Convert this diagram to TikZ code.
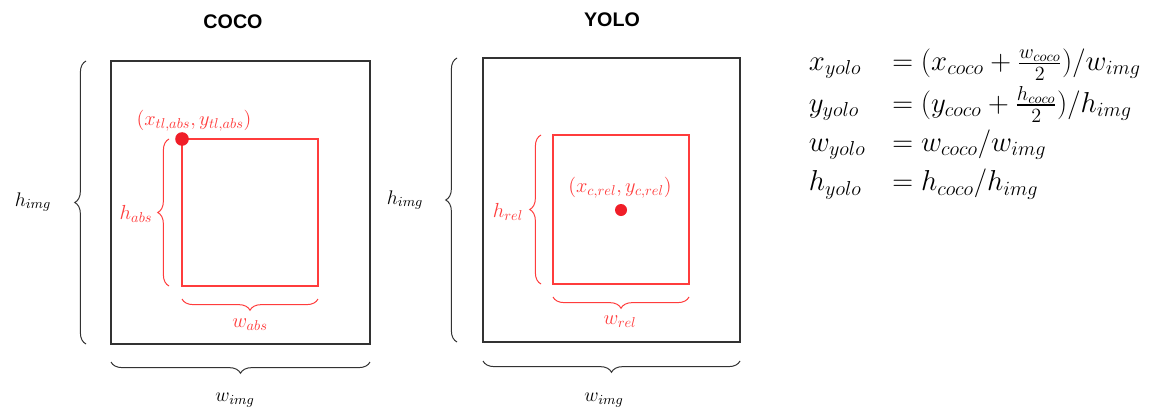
\documentclass[tikz,border=0pt]{standalone}
\usepackage{fix-cm}
\usepackage{amsmath}
\usepackage{fontspec}
\newfontfamily\titlefont{Liberation Sans}
\usetikzlibrary{decorations.pathreplacing}
\definecolor{boxred}{RGB}{255,60,60}
\definecolor{dotred}{RGB}{240,30,40}
\definecolor{imgline}{RGB}{50,50,50}
\begin{document}
\begin{tikzpicture}[x=0.025cm,y=-0.025cm,
  imgbox/.style={draw=imgline,line width=0.8pt},
  bbox/.style={draw=boxred,line width=1.3pt},
  imgbrace/.style={draw=imgline,line width=0.7pt,decorate,decoration={brace,amplitude=8pt}},
  bbbrace/.style={draw=boxred,line width=0.7pt,decorate,decoration={brace,amplitude=8pt}},
  title/.style={font=\titlefont\bfseries\fontsize{14}{16}\selectfont},
  imglabel/.style={font=\fontsize{14}{16}\selectfont},
  bblabel/.style={text=boxred,font=\fontsize{14.5}{16}\selectfont},
  pt/.style={circle,fill=dotred,inner sep=0pt,minimum size=0.34cm}]
  \fill[white] (0,0) rectangle (1153,410);
  % COCO
  \node[title] (cocotitle) at (233,22) {COCO};
  \draw[imgbox] (111,61) rectangle (370,344);
  \draw[imgbrace] (86,344) -- (86,61);
  \draw[imgbrace] (370,362) -- (111,362);
  \node[imglabel] (cocoh) at (33,202) {$h_{img}$};
  \node[imglabel] (cocow) at (235,400) {$w_{img}$};
  \draw[bbox] (182,139) rectangle (318,286);
  \draw[bbbrace] (169,286) -- (169,139);
  \draw[bbbrace] (318,299) -- (182,299);
  \node[pt] (tl) at (182,139) {};
  \node[bblabel] (tllabel) at (194,121) {$(x_{tl,abs}, y_{tl,abs})$};
  \node[bblabel] (habs) at (136,214) {$h_{abs}$};
  \node[bblabel] (wabs) at (250,325) {$w_{abs}$};
  % YOLO
  \node[title] (yolotitle) at (612,20) {YOLO};
  \draw[imgbox] (483,58) rectangle (740,342);
  \draw[imgbrace] (457,342) -- (457,58);
  \draw[imgbrace] (740,361) -- (483,361);
  \node[imglabel] (yoloh) at (405,200) {$h_{img}$};
  \node[imglabel] (yolow) at (604,400) {$w_{img}$};
  \draw[bbox] (553,135) rectangle (689,284);
  \draw[bbbrace] (541,284) -- (541,135);
  \draw[bbbrace] (689,297) -- (553,297);
  \node[pt,minimum size=0.3cm] (ctr) at (621,210) {};
  \node[bblabel] (ctrlabel) at (620,188) {$(x_{c,rel}, y_{c,rel})$};
  \node[bblabel] (hrel) at (508,212) {$h_{rel}$};
  \node[bblabel] (wrel) at (620,322) {$w_{rel}$};
  % conversion
  \node[anchor=west,font=\fontsize{20.5}{24}\selectfont] (eqs) at (804,124) {$\begin{array}{@{}l@{\hspace{19pt}}l@{}}
    x_{yolo} & = (x_{coco} + \tfrac{w_{coco}}{2})/w_{img}\\[4pt]
    y_{yolo} & = (y_{coco} + \tfrac{h_{coco}}{2})/h_{img}\\[4pt]
    w_{yolo} & = w_{coco}/w_{img}\\[4pt]
    h_{yolo} & = h_{coco}/h_{img}
  \end{array}$};
\end{tikzpicture}
\end{document}
